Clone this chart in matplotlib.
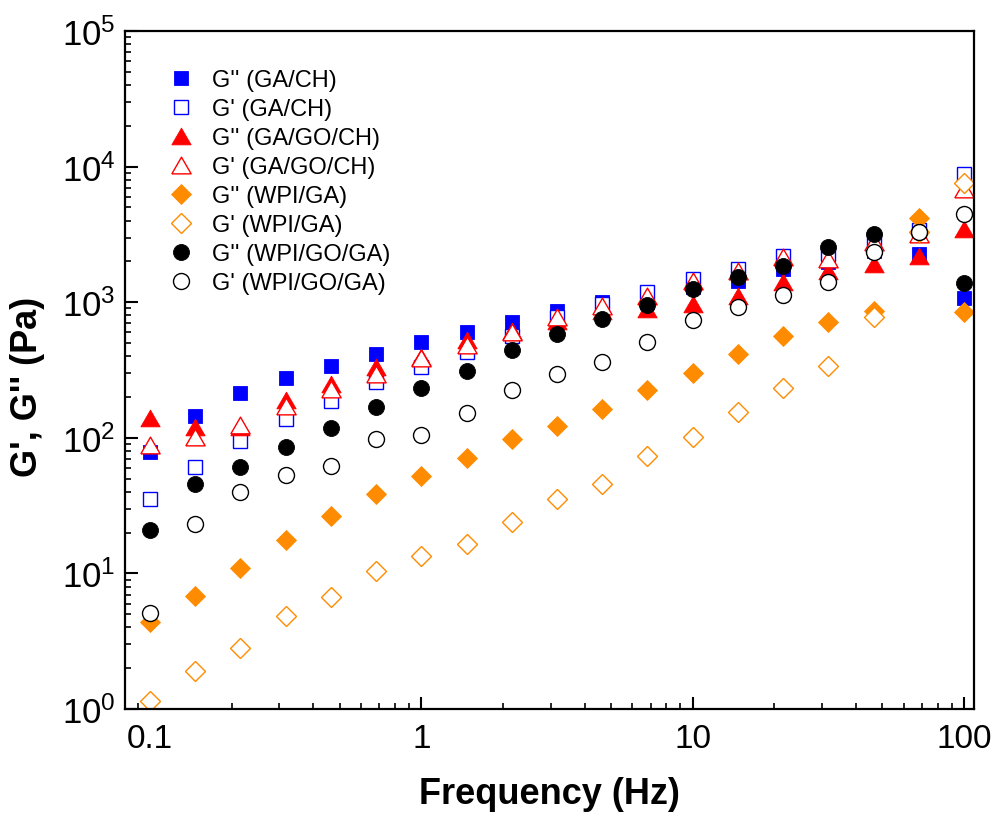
import matplotlib
matplotlib.use('Agg')
import matplotlib.pyplot as plt
from matplotlib.ticker import LogLocator, NullFormatter

plt.rcParams['font.family'] = ['Liberation Sans', 'DejaVu Sans']
plt.rcParams['mathtext.default'] = 'regular'

# frequency sweep, 6 points per decade
freq = [0.1, 0.1468, 0.2154, 0.3162, 0.4642, 0.6813, 1.0, 1.468, 2.154, 3.162,
        4.642, 6.813, 10.0, 14.68, 21.54, 31.62, 46.42, 68.13, 100.0]

g2_ga_ch = [79, 145, 215, 277, 340, 417, 511, 606, 718, 865,
            1009, 1000, 1300, 1440, 1766, 1995, 2400, 2280, 1080]
g1_ga_ch = [35.5, 61, 95, 138, 187, 259, 334, 431, 566, 780,
            975, 1195, 1490, 1766, 2203, 2250, 2944, 3400, 8870]
g2_ga_go_ch = [140, 120, 120, 190, 250, 334, 396, 529, 617, 730,
               860, 896, 975, 1117, 1417, 1706, 1924, 2203, 3485]
g1_ga_go_ch = [89, 102, 125, 172, 230, 297, 389, 486, 606, 782,
               942, 1117, 1440, 1706, 2168, 2100, 2794, 3200, 6890]
g2_wpi_ga = [4.4, 6.8, 11, 17.7, 26.6, 38.6, 52, 71, 98, 123,
             164, 226, 302, 417, 566, 718, 865, 4204, 851]
g1_wpi_ga = [1.15, 1.9, 2.8, 4.9, 6.7, 10.4, 13.5, 16.5, 24, 35.5,
             46, 74, 102, 155, 234, 340, 782, 3300, 7620]
g2_wpi_go_ga = [21, 46, 61, 86, 118, 169, 234, 312, 446, 585,
                755, 959, 1259, 1543, 1858, 2570, 3205, 3300, 1393]
g1_wpi_go_ga = [5.1, 23, 40, 53, 62, 98, 105, 153, 226, 297,
                364, 511, 743, 926, 1136, 1417, 2360, 3311, 4500]

# equilateral triangle (wider than tall, like Origin's)
tri = [(-1, -0.866), (1, -0.866), (0, 0.866), (-1, -0.866)]

series = [
    (g2_ga_ch, "G'' (GA/CH)", 's', 'blue', True, 10.5),
    (g1_ga_ch, "G' (GA/CH)", 's', 'blue', False, 10.5),
    (g2_ga_go_ch, "G'' (GA/GO/CH)", tri, 'red', True, 13.9),
    (g1_ga_go_ch, "G' (GA/GO/CH)", tri, 'red', False, 13.9),
    (g2_wpi_ga, "G'' (WPI/GA)", 'D', 'darkorange', True, 10.2),
    (g1_wpi_ga, "G' (WPI/GA)", 'D', 'darkorange', False, 10.2),
    (g2_wpi_go_ga, "G'' (WPI/GO/GA)", 'o', 'black', True, 11.5),
    (g1_wpi_go_ga, "G' (WPI/GO/GA)", 'o', 'black', False, 11.5),
]

fig = plt.figure(figsize=(9.93, 8.2), dpi=100)
ax = fig.add_axes([0.126, 0.134, 0.855, 0.827])

for vals, lab, mk, col, filled, ms in series:
    ax.plot(freq, vals, linestyle='none', marker=mk, markersize=ms,
            markerfacecolor=col if filled else 'white',
            markeredgecolor=col, markeredgewidth=0.6 if filled else 1.0,
            label=lab)

ax.set_xscale('log')
ax.set_yscale('log')
ax.set_xlim(0.081, 109)
ax.set_ylim(1, 1e5)

ax.xaxis.set_minor_locator(LogLocator(base=10, subs=range(2, 10)))
ax.yaxis.set_minor_locator(LogLocator(base=10, subs=range(2, 10), numticks=20))
ax.xaxis.set_minor_formatter(NullFormatter())
ax.yaxis.set_minor_formatter(NullFormatter())
ax.set_xticks([0.1, 1, 10, 100])
ax.set_xticklabels(['0.1', '1', '10', '100'])

ax.tick_params(which='both', direction='in', top=False, right=False)
ax.tick_params(which='major', length=9, width=1.5)
ax.tick_params(which='minor', length=4.5, width=1.2)
ax.tick_params(axis='x', pad=10, labelsize=24)
ax.tick_params(axis='y', pad=7, labelsize=25)
for s in ax.spines.values():
    s.set_linewidth(1.6)

ax.set_xlabel('Frequency (Hz)', fontsize=26, fontweight='bold', labelpad=16)
ax.set_ylabel("G', G'' (Pa)", fontsize=26, fontweight='bold')
ax.yaxis.set_label_coords(-0.094, 0.476)

ax.legend(loc='upper left', bbox_to_anchor=(0.038, 0.958), frameon=False,
          fontsize=17, labelspacing=0.30, handletextpad=0.71,
          handlelength=1.2, borderaxespad=0)

plt.savefig('out.png', dpi=100)
